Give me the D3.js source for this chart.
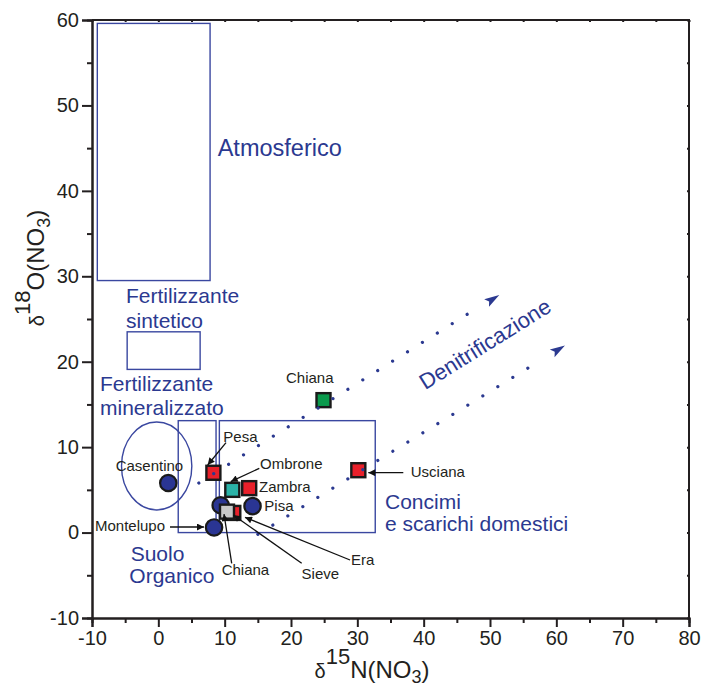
<!DOCTYPE html>
<html>
<head>
<meta charset="utf-8">
<script src="https://cdn.jsdelivr.net/npm/d3@7"></script>
<style>
  html, body { margin: 0; padding: 0; background: #fff; }
  svg { display: block; font-family: "Liberation Sans", Arial, sans-serif; }
</style>
</head>
<body>
<svg id="chart" width="701" height="688"></svg>
<script>
// ---------------- DATA ----------------
// Axis ticks
const xTicksMajor = [-10, 0, 10, 20, 30, 40, 50, 60, 70, 80];
const xTicksMinor = [-5, 5, 15, 25, 35, 45, 55, 65, 75];
const yTicksMajor = [-10, 0, 10, 20, 30, 40, 50, 60];
const yTicksMinor = [-5, 5, 15, 25, 35, 45, 55];

// Source fields (rectangles): d15N range and d18O range
const boxNames = ["Atmosferico", "Fertilizzante sintetico", "Suolo organico", "Concimi e scarichi domestici"];
const boxX0 = [-9.2, -4.7, 3.0, 9.2];
const boxX1 = [7.8, 6.3, 8.7, 32.7];
const boxY0 = [29.5, 19.1, 0.0, 0.0];
const boxY1 = [59.6, 23.5, 13.1, 13.1];

// Fertilizzante mineralizzato field (ellipse)
const ellipseCX = [-0.25];
const ellipseCY = [7.8];
const ellipseRX = [5.3];
const ellipseRY = [5.15];

// Sampling points: circles
const circleNames = ["Casentino", "Chiana", "Montelupo", "Pisa"];
const circleX = [1.5, 9.4, 8.4, 14.2];
const circleY = [5.8, 3.2, 0.6, 3.1];

// Sampling points: squares
const squareNames = ["Pesa", "Ombrone", "Zambra", "Era", "Sieve", "Usciana", "Chiana"];
const squareX = [8.3, 11.15, 13.7, 11.3, 10.35, 30.15, 24.9];
const squareY = [7.0, 5.0, 5.2, 2.3, 2.45, 7.3, 15.5];

// Denitrification trends
const denitX0 = [6.1, 15.0];
const denitY0 = [5.8, -0.2];
const denitX1 = [48.6, 57.5];
const denitY1 = [26.55, 20.1];
const denitTipX = [51.4, 61.3];
const denitTipY = [27.8, 21.9];

// Point labels (text anchor positions in data units) and leader arrows
const labelText = ["Chiana", "Pesa", "Casentino", "Ombrone", "Zambra", "Pisa", "Montelupo", "Chiana", "Sieve", "Era", "Usciana"];
const labelX = [19.25, 9.8, -6.43, 15.33, 15.18, 15.98, -9.55, 9.55, 21.6, 29.05, 38.05];
const labelY = [17.54, 10.64, 7.24, 7.41, 4.79, 2.53, 0.19, -4.97, -5.43, -3.8, 6.47];
const arrowFromX = [10.2, 15.22, 1.76, 11.06, 21.61, 28.9, 36.93];
const arrowFromY = [10.52, 7.52, 0.65, -3.6, -3.6, -3.21, 7.01];
const arrowToX = [7.44, 10.91, 6.88, 9.9, 11.3, 13.07, 31.65];
const arrowToY = [7.91, 5.96, 0.65, 2.17, 2.06, 1.79, 7.01];

// Region labels (lines, left/baseline in data units)
const regionText = ["Atmosferico", "Fertilizzante", "sintetico", "Fertilizzante", "mineralizzato", "Suolo", "Organico", "Concimi", "e scarichi domestici"];
const regionX = [8.95, -4.87, -4.87, -8.79, -8.79, -4.17, -4.37, 34.17, 34.17];
const regionY = [44.12, 26.84, 23.91, 16.61, 13.76, -3.29, -5.87, 2.72, 0.22];

// ---------------- STYLE ----------------
const BLUE_TEXT = "#2b3990";
const BLUE_LINE = "#3a47a0";
const AXIS = "#231f20";
const squareFill = { Pesa: "#e8202a", Ombrone: "#2bb3a8", Zambra: "#e8202a", Era: "#e8202a", Sieve: "#c8c8c8", Usciana: "#e8202a", Chiana: "#0a9a4c" };

// ---------------- CHART ----------------
const svg = d3.select("#chart");
const x = d3.scaleLinear().domain([-10, 80]).range([92, 689]);
const y = d3.scaleLinear().domain([-10, 60]).range([618, 20]);
const fmt = d => String(d);

const defs = svg.append("defs");
defs.append("marker")
  .attr("id", "ah").attr("viewBox", "0 0 10 10")
  .attr("refX", 10).attr("refY", 5)
  .attr("markerWidth", 11).attr("markerHeight", 7)
  .attr("markerUnits", "userSpaceOnUse")
  .attr("orient", "auto")
  .append("path").attr("d", "M0,0 L10,5 L0,10 Z").attr("fill", "#111");

// Boxes
svg.append("g").selectAll("rect").data(boxNames).join("rect")
  .attr("x", (d, i) => x(boxX0[i]))
  .attr("y", (d, i) => y(boxY1[i]))
  .attr("width", (d, i) => x(boxX1[i]) - x(boxX0[i]))
  .attr("height", (d, i) => y(boxY0[i]) - y(boxY1[i]))
  .attr("fill", "none").attr("stroke", BLUE_LINE).attr("stroke-width", 1.4);

// Ellipse
svg.append("g").selectAll("ellipse").data(ellipseCX).join("ellipse")
  .attr("cx", (d, i) => x(ellipseCX[i]))
  .attr("cy", (d, i) => y(ellipseCY[i]))
  .attr("rx", (d, i) => x(ellipseCX[i] + ellipseRX[i]) - x(ellipseCX[i]))
  .attr("ry", (d, i) => y(ellipseCY[i]) - y(ellipseCY[i] + ellipseRY[i]))
  .attr("fill", "none").attr("stroke", BLUE_LINE).attr("stroke-width", 1.4);

// Axes
const gx = svg.append("g").attr("transform", `translate(0,${y(-10)})`);
gx.call(d3.axisBottom(x).tickValues(xTicksMajor).tickSize(9).tickFormat(fmt));
const gxm = svg.append("g").attr("transform", `translate(0,${y(-10)})`);
gxm.call(d3.axisBottom(x).tickValues(xTicksMinor).tickSize(5).tickFormat(""));
const gy = svg.append("g").attr("transform", `translate(${x(-10)},0)`);
gy.call(d3.axisLeft(y).tickValues(yTicksMajor).tickSize(10).tickFormat(fmt));
const gym = svg.append("g").attr("transform", `translate(${x(-10)},0)`);
gym.call(d3.axisLeft(y).tickValues(yTicksMinor).tickSize(5).tickFormat(""));
const gt = svg.append("g").attr("transform", `translate(0,${y(60)})`);
gt.call(d3.axisBottom(x).tickValues(xTicksMajor.concat(xTicksMinor)).tickSize(2).tickFormat(""));
const gr = svg.append("g").attr("transform", `translate(${x(80)},0)`);
gr.call(d3.axisLeft(y).tickValues(yTicksMajor.concat(yTicksMinor)).tickSize(2).tickFormat(""));

[gx, gxm, gy, gym, gt, gr].forEach(g => {
  g.selectAll(".domain").attr("stroke", AXIS).attr("stroke-width", 2);
  g.selectAll(".tick line").attr("stroke", AXIS).attr("stroke-width", 2);
});
gt.select(".domain").remove();
gr.select(".domain").remove();
svg.append("path")
  .attr("d", `M${x(-10)},${y(60)} H${x(80)} V${y(-10)}`)
  .attr("fill", "none").attr("stroke", AXIS).attr("stroke-width", 2);

gx.selectAll(".tick text").attr("font-size", 20).attr("fill", "#231f20").attr("y", 13)
  .attr("font-family", "Liberation Sans, Arial, sans-serif");
gy.selectAll(".tick text").attr("font-size", 20).attr("fill", "#231f20").attr("x", -13)
  .attr("font-family", "Liberation Sans, Arial, sans-serif");

// Axis titles
const xt = svg.append("text").attr("x", 372).attr("y", 678).attr("text-anchor", "middle")
  .attr("fill", "#231f20").attr("font-size", 24);
xt.append("tspan").attr("font-size", 20).text("δ");
xt.append("tspan").attr("font-size", 22).attr("dy", -14).text("15");
xt.append("tspan").attr("dy", 14).text("N(NO");
xt.append("tspan").attr("font-size", 18).attr("dy", 5).text("3");
xt.append("tspan").attr("dy", -5).text(")");

const yt = svg.append("text").attr("transform", "translate(44,268) rotate(-90)").attr("text-anchor", "middle")
  .attr("fill", "#231f20").attr("font-size", 24);
yt.append("tspan").attr("font-size", 20).text("δ");
yt.append("tspan").attr("font-size", 22).attr("dy", -14).text("18");
yt.append("tspan").attr("dy", 14).text("O(NO");
yt.append("tspan").attr("font-size", 18).attr("dy", 6).text("3");
yt.append("tspan").attr("dy", -6).text(")");

// Circles
svg.append("g").selectAll("circle").data(circleNames).join("circle")
  .attr("cx", (d, i) => x(circleX[i]))
  .attr("cy", (d, i) => y(circleY[i]))
  .attr("r", 8.2)
  .attr("fill", "#2a3593").attr("stroke", "#1a1a1a").attr("stroke-width", 2.2);

// Squares
svg.append("g").selectAll("rect").data(squareNames).join("rect")
  .attr("x", (d, i) => x(squareX[i]) - 7)
  .attr("y", (d, i) => y(squareY[i]) - 7)
  .attr("width", 14).attr("height", 14)
  .attr("fill", d => squareFill[d]).attr("stroke", "#1a1a1a").attr("stroke-width", 2.4);

// Denitrification dotted lines
svg.append("g").selectAll("line").data(denitX0).join("line")
  .attr("x1", (d, i) => x(denitX0[i])).attr("y1", (d, i) => y(denitY0[i]))
  .attr("x2", (d, i) => x(denitX1[i])).attr("y2", (d, i) => y(denitY1[i]))
  .attr("stroke", "#2b3990").attr("stroke-width", 3.2).attr("stroke-linecap", "round")
  .attr("stroke-dasharray", "0.01 17.6");
// arrowheads
svg.append("g").selectAll("path").data(denitTipX).join("path")
  .attr("d", (d, i) => {
    const tx = x(denitTipX[i]), ty = y(denitTipY[i]);
    const ang = Math.atan2(y(denitY1[i]) - y(denitY0[i]), x(denitX1[i]) - x(denitX0[i]));
    const L = 15, W = 4.5;
    const bx = tx - L * Math.cos(ang), by = ty - L * Math.sin(ang);
    const px = -Math.sin(ang) * W, py = Math.cos(ang) * W;
    const nx = tx - (L - 3) * Math.cos(ang), ny = ty - (L - 3) * Math.sin(ang);
    return `M${tx},${ty} L${bx + px},${by + py} L${nx},${ny} L${bx - px},${by - py} Z`;
  })
  .attr("fill", "#2b3990");

// Denitrificazione label
svg.append("text")
  .attr("transform", `translate(${x(49.25)},${y(22.07)}) rotate(-32)`)
  .attr("text-anchor", "middle").attr("dominant-baseline", "central")
  .attr("font-size", 22).attr("fill", BLUE_TEXT).text("Denitrificazione");

// Region labels
svg.append("g").selectAll("text").data(regionText).join("text")
  .attr("x", (d, i) => x(regionX[i])).attr("y", (d, i) => y(regionY[i]))
  .attr("font-size", (d, i) => i === 0 ? 23.5 : 21)
  .attr("fill", BLUE_TEXT).text(d => d);

// Leader arrows
svg.append("g").selectAll("line").data(arrowFromX).join("line")
  .attr("x1", (d, i) => x(arrowFromX[i])).attr("y1", (d, i) => y(arrowFromY[i]))
  .attr("x2", (d, i) => x(arrowToX[i])).attr("y2", (d, i) => y(arrowToY[i]))
  .attr("stroke", "#111").attr("stroke-width", 1.3).attr("marker-end", "url(#ah)");

// Point labels
svg.append("g").selectAll("text").data(labelText).join("text")
  .attr("x", (d, i) => x(labelX[i])).attr("y", (d, i) => y(labelY[i]))
  .attr("font-size", 15).attr("fill", "#231f20").text(d => d);
</script>
</body>
</html>
